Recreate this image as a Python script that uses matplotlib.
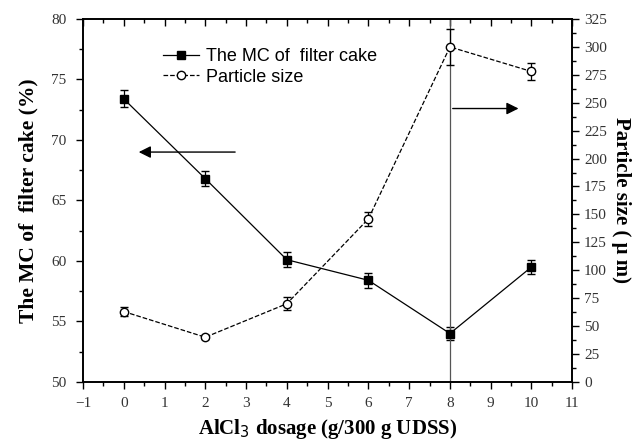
import matplotlib
matplotlib.use("Agg")
import matplotlib.pyplot as plt
from matplotlib.ticker import MultipleLocator
from matplotlib.lines import Line2D

dosage = [0, 2, 4, 6, 8, 10]
mc = [73.4, 66.8, 60.1, 58.4, 54.0, 59.5]
mc_err = [0.7, 0.6, 0.6, 0.6, 0.5, 0.6]
psize = [63, 40, 70, 146, 300, 278]
psize_err = [4, 2, 6, 6, 16, 8]

serif = ['Liberation Serif', 'DejaVu Serif']

fig = plt.figure(figsize=(6.43, 4.42), dpi=100)
ax = fig.add_axes([0.129, 0.136, 0.761, 0.821])
ax2 = ax.twinx()

ax.errorbar(dosage, mc, yerr=mc_err, color='black', marker='s', ms=6,
            lw=0.9, capsize=3, elinewidth=0.9)
ax2.errorbar(dosage, psize, yerr=psize_err, color='black', marker='o', ms=6,
             mfc='white', ls='--', lw=0.9, capsize=3, elinewidth=0.9)

ax.axvline(8, color='#555555', lw=0.9)

ax.set_xlim(-1, 11)
ax.set_ylim(50, 80)
ax2.set_ylim(0, 325)
ax.xaxis.set_major_locator(MultipleLocator(1))
ax.xaxis.set_minor_locator(MultipleLocator(0.5))
ax.yaxis.set_major_locator(MultipleLocator(5))
ax.yaxis.set_minor_locator(MultipleLocator(2.5))
ax2.yaxis.set_major_locator(MultipleLocator(25))
ax2.yaxis.set_minor_locator(MultipleLocator(12.5))

ax.tick_params(axis='x', which='both', top=True, direction='out', pad=6)
ax.tick_params(axis='x', which='major', length=5, width=1)
ax.tick_params(axis='x', which='minor', length=3, width=1)
ax.tick_params(axis='y', which='major', length=5, width=1, pad=7)
ax.tick_params(axis='y', which='minor', length=3, width=1)
ax2.tick_params(axis='y', which='major', length=5, width=1)
ax2.tick_params(axis='y', which='minor', length=3, width=1)
# top ticks point inward
for t in ax.xaxis.get_major_ticks() + ax.xaxis.get_minor_ticks():
    t.tick2line.set_marker(3)
for a in (ax, ax2):
    for s in a.spines.values():
        s.set_linewidth(1.2)
    for lab in a.get_xticklabels() + a.get_yticklabels():
        lab.set_family(serif)
        lab.set_fontsize(11)
        lab.set_color('#333333')

ax.set_xlabel('AlCl$_3$ dosage (g/300 g UDSS)', family=serif, fontsize=15,
              fontweight='bold', labelpad=5)
ax.set_ylabel('The MC of  filter cake (%)', family=serif, fontsize=15.5,
              fontweight='bold', labelpad=9)
ax2.set_ylabel('Particle size ( \u03bc m)', family=serif, fontsize=15,
               fontweight='bold', rotation=270, labelpad=17)

# arrows
ax.annotate('', xy=(0.3, 69.0), xytext=(2.8, 69.0),
            arrowprops=dict(arrowstyle='-|>', color='black', lw=1.0,
                            mutation_scale=18))
ax.annotate('', xy=(9.75, 72.6), xytext=(8.0, 72.6),
            arrowprops=dict(arrowstyle='-|>', color='black', lw=1.0,
                            mutation_scale=18))

h1 = Line2D([], [], color='black', marker='s', ms=6, lw=0.9)
h2 = Line2D([], [], color='black', marker='o', ms=6, mfc='white', ls='--', lw=0.9)
ax.legend([h1, h2], ['The MC of  filter cake', 'Particle size'],
          loc='upper left', bbox_to_anchor=(0.13, 0.965), frameon=False,
          prop={'family': ['Liberation Sans', 'DejaVu Sans'], 'size': 13},
          handlelength=2.0, handletextpad=0.4, labelspacing=0.2)

fig.savefig('out.png', dpi=100)
